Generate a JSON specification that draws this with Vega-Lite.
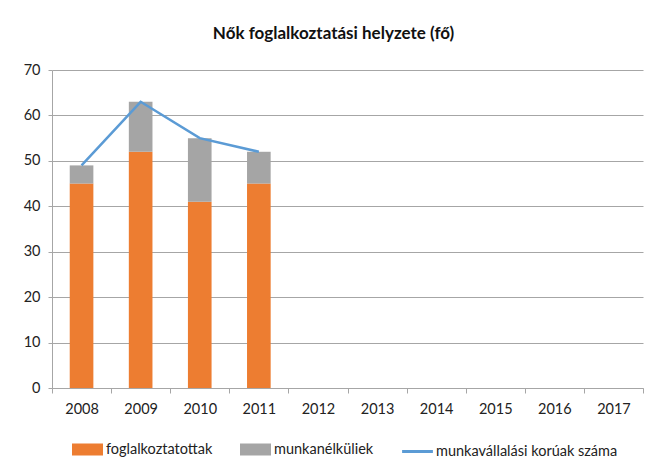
{
  "$schema": "https://vega.github.io/schema/vega-lite/v6.json",
  "autosize": {"type": "none"},
  "width": 591,
  "height": 318,
  "padding": {"left": 52, "top": 70, "right": 23, "bottom": 84},
  "background": "white",
  "config": {
    "view": {"stroke": null},
    "font": "Lato",
    "axis": {"labelFont": "Lato", "labelFontSize": 14.5, "labelColor": "#222", "domainColor": "#A6A6A6", "tickColor": "#A6A6A6", "gridColor": "#A6A6A6", "title": null}
  },
  "title": {"text": "Nők foglalkoztatási helyzete (fő)", "font": "Lato", "fontSize": 17, "fontWeight": "bold", "color": "#111", "anchor": "middle", "dx": -14, "offset": 19},
  "data": {"values": [
    {"year": "2008", "series": "foglalkoztatottak", "value": 45},
    {"year": "2009", "series": "foglalkoztatottak", "value": 52},
    {"year": "2010", "series": "foglalkoztatottak", "value": 41},
    {"year": "2011", "series": "foglalkoztatottak", "value": 45},
    {"year": "2008", "series": "munkanélküliek", "value": 4},
    {"year": "2009", "series": "munkanélküliek", "value": 11},
    {"year": "2010", "series": "munkanélküliek", "value": 14},
    {"year": "2011", "series": "munkanélküliek", "value": 7},
    {"year": "2008", "series": "munkavállalási korúak száma", "value": 49},
    {"year": "2009", "series": "munkavállalási korúak száma", "value": 63},
    {"year": "2010", "series": "munkavállalási korúak száma", "value": 55},
    {"year": "2011", "series": "munkavállalási korúak száma", "value": 52}
  ]},
  "encoding": {
    "x": {"field": "year", "type": "ordinal",
      "scale": {"domain": ["2008","2009","2010","2011","2012","2013","2014","2015","2016","2017"], "paddingInner": 0, "paddingOuter": 0},
      "axis": {"labelAngle": 0, "tickBand": "extent", "tickSize": 5, "labelPadding": 9, "grid": false}},
    "y": {"field": "value", "type": "quantitative",
      "scale": {"domain": [0, 70], "nice": false},
      "axis": {"values": [0,10,20,30,40,50,60,70], "tickSize": 4, "labelPadding": 8, "grid": true}},
    "color": {"field": "series", "type": "nominal",
      "scale": {"domain": ["foglalkoztatottak", "munkanélküliek", "munkavállalási korúak száma"], "range": ["#ED7D31", "#A5A5A5", "#5B9BD5"]},
      "legend": {"title": null, "orient": "none", "direction": "horizontal", "legendX": 20, "legendY": 364,
        "labelFont": "Lato", "labelFontSize": 14.5, "labelColor": "#222", "labelLimit": 400, "symbolSize": 784, "columnPadding": 22, "labelOffset": 3,
        "encode": {"symbols": {"update": {
          "shape": {"signal": "datum.value === 'munkavállalási korúak száma' ? 'M-1.1,0H1.1' : 'M-1,-0.32H1V0.32H-1Z'"},
          "fill": {"signal": "datum.value === 'munkavállalási korúak száma' ? 'transparent' : (datum.value === 'foglalkoztatottak' ? '#ED7D31' : '#A5A5A5')"},
          "stroke": {"signal": "datum.value === 'munkavállalási korúak száma' ? '#5B9BD5' : 'transparent'"},
          "strokeWidth": {"value": 3},
          "opacity": {"value": 1}
        }}}}
    }
  },
  "layer": [
    {"transform": [{"filter": "datum.series !== 'munkavállalási korúak száma'"}],
     "mark": {"type": "bar", "width": {"band": 0.4}},
     "encoding": {"order": {"field": "series", "sort": "ascending"}}},
    {"transform": [{"filter": "datum.series === 'munkavállalási korúak száma'"}],
     "mark": {"type": "line", "strokeWidth": 2.5}}
  ]
}
